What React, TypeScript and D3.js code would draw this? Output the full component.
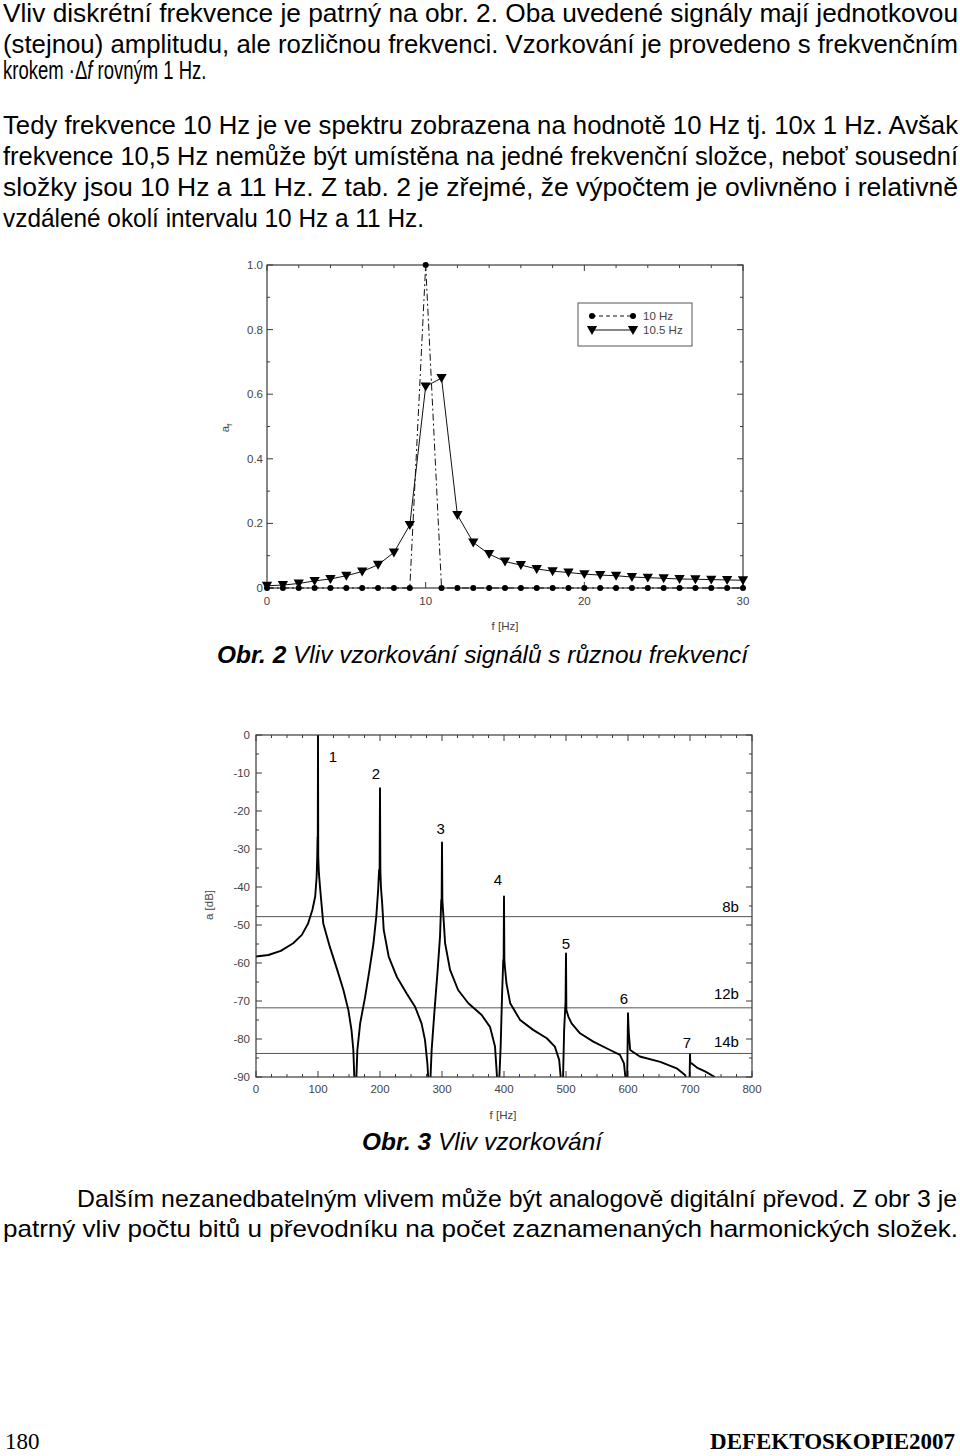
import React from 'react';
import * as d3 from 'd3';

// ---- Obr. 2 data ----
const topFreq = [0, 1, 2, 3, 4, 5, 6, 7, 8, 9, 10, 11, 12, 13, 14, 15, 16, 17, 18, 19, 20, 21, 22, 23, 24, 25, 26, 27, 28, 29, 30];
const amp10 = [0, 0, 0, 0, 0, 0, 0, 0, 0, 0, 1, 0, 0, 0, 0, 0, 0, 0, 0, 0, 0, 0, 0, 0, 0, 0, 0, 0, 0, 0, 0];
const amp105 = [0.007, 0.009, 0.014, 0.022, 0.028, 0.038, 0.051, 0.072, 0.11, 0.195, 0.624, 0.65, 0.226, 0.141, 0.105, 0.082, 0.071, 0.059, 0.052, 0.048, 0.043, 0.04, 0.038, 0.034, 0.032, 0.03, 0.028, 0.027, 0.026, 0.025, 0.024];
const topLegend = ['10 Hz', '10.5 Hz'];
const topXTicks = [0, 10, 20, 30];
const topYTicks = [0, 0.2, 0.4, 0.6, 0.8, 1.0];
const topYLabels = ['0', '0.2', '0.4', '0.6', '0.8', '1.0'];

// ---- Obr. 3 data ----
const specFreq = [0, 20, 40, 60, 74, 84, 91, 95.5, 97.8, 98.8, 99.3, 99.6, 100,
  100.4, 101.5, 103.5, 108.5, 119, 131, 141, 149, 154, 157, 159,
  161.5, 163.5, 168, 176, 183, 189.5, 194, 197, 198.5, 199.3, 200,
  200.6, 201.5, 203.5, 206, 214, 227, 243, 256.5, 267, 272.6, 276.4, 278.5,
  281, 283.3, 287.6, 293, 296.8, 298.8, 299.4, 300, 300.6,
  302, 305, 313, 326, 342.5, 364, 377.4, 385.5, 388, 389.5,
  392, 394.6, 396.8, 398.8, 399.4, 400, 400.6,
  402, 404, 410, 426, 447, 469, 482, 489, 492.5,
  495, 497, 499.3, 500, 500.6,
  503.8, 509, 522.6, 544, 571, 587, 593.5, 597,
  598.5, 599.5, 600, 600.6, 601.5, 603.5, 619, 652, 678.5, 692, 698,
  699.2, 700, 700.6, 702.5, 712, 725, 740];
const specDb = [-58.3, -57.9, -56.8, -54.8, -52.6, -49.6, -46, -42.5, -37.3, -32, -26.8, -31, 0,
  -32, -36.5, -40.5, -49.6, -55.7, -61.8, -67.1, -72.4, -77.6, -82.9, -92,
  -92, -82.9, -75.9, -68.9, -61.8, -54.8, -47.8, -40.8, -35.5, -38, -14,
  -35.5, -40, -44.3, -51.3, -58.3, -63.6, -68, -71.5, -75.9, -80.3, -86.4, -92,
  -92, -82.9, -73.2, -61.8, -53.1, -43.4, -44, -28.3, -43.4,
  -47, -54.8, -61.8, -67.1, -70.6, -73.7, -76.8, -82, -88.2, -92,
  -92, -82, -68.9, -59.2, -60, -42.5, -59.2,
  -62, -65.4, -70.6, -75, -77.6, -79.8, -82, -85.5, -92,
  -92, -77.6, -70, -57.5, -72.4,
  -74.1, -75.9, -78.5, -80.7, -82.9, -84.2, -86.4, -92,
  -92, -80, -73.2, -76, -79, -82.9, -84.6, -86, -87.7, -89.5, -92,
  -92, -84, -86.5, -86.4, -87.6, -88.6, -90];
const peakLabels = ['1', '2', '3', '4', '5', '6', '7'];
const peakLabelFreq = [124, 193.5, 298, 390, 500, 593.5, 695];
const peakLabelDb = [-5.8, -10.3, -24.7, -38.2, -55, -69.5, -81];
const bitLevels = [-47.8, -71.8, -83.8];
const bitLabels = ['8b', '12b', '14b'];
const bitLabelDb = [-45.3, -68.2, -80.8];
const bottomXTicks = [0, 100, 200, 300, 400, 500, 600, 700, 800];
const bottomYTicks = [0, -10, -20, -30, -40, -50, -60, -70, -80, -90];

// ---- page text ----
const para1 = [
  'Vliv diskrétní frekvence je patrný na obr. 2. Oba uvedené signály mají jednotkovou',
  '(stejnou) amplitudu, ale rozličnou frekvenci. Vzorkování je provedeno s\u00a0frekvenčním',
];
const para2 = [
  'Tedy frekvence 10 Hz je ve spektru zobrazena na hodnotě 10 Hz tj. 10x 1 Hz. Avšak',
  'frekvence 10,5 Hz nemůže být umístěna na jedné frekvenční složce, neboť sousední',
  'složky jsou 10 Hz a 11 Hz. Z\u00a0tab. 2 je zřejmé, že výpočtem je ovlivněno i relativně',
];
const para2Last = 'vzdálené okolí intervalu 10 Hz a 11 Hz.';
const para3 = [
  'Dalším nezanedbatelným vlivem může být analogově digitální převod. Z\u00a0obr 3 je',
  'patrný vliv počtu bitů u převodníku na počet zaznamenaných harmonických složek.',
];

const SANS = "'Liberation Sans', Arial, Helvetica, sans-serif";
const SERIF = "'Liberation Serif', 'Times New Roman', serif";
const AXIS = '#3a3a3a';
const LABEL = '#444';

const App: React.FC = () => {
  // top chart scales
  const x1 = d3.scaleLinear().domain([0, 30]).range([267, 743]);
  const y1 = d3.scaleLinear().domain([0, 1]).range([588, 265]);
  // bottom chart scales
  const x2 = d3.scaleLinear().domain([0, 800]).range([256, 752]);
  const y2 = d3.scaleLinear().domain([-90, 0]).range([1077, 735]);

  const line10 = d3.line<number>().x((_, i) => x1(topFreq[i])).y(d => y1(d));
  const specLine = d3.line<number>().x((_, i) => x2(specFreq[i])).y(d => y2(d));
  const tri = d3.symbol().type(d3.symbolTriangle).size(46)()!;

  const topMinorX = d3.range(0, 30.01, 2);
  const topMinorY = d3.range(0, 1.001, 0.1);
  const botMinorX = d3.range(0, 800.1, 25);
  const botMinorY = d3.range(-90, 0.1, 5);

  const [tx0, tx1] = x1.range();
  const [ty0, ty1] = y1.range();
  const [bx0, bx1] = x2.range();
  const [by0, by1] = y2.range();

  return (
    <svg width={960} height={1456} style={{ position: 'absolute', left: 0, top: 0, background: '#fff' }}>
      <defs>
        <clipPath id="specClip">
          <rect x={bx0} y={by1} width={bx1 - bx0} height={by0 - by1} />
        </clipPath>
      </defs>

      {/* paragraph 1 */}
      <g fontFamily={SANS} fontSize={25} fill="#000">
        {para1.map((t, i) => (
          <text key={t} x={3} y={22 + i * 31} textLength={955} lengthAdjust="spacingAndGlyphs">{t}</text>
        ))}
        <text transform="translate(3,79) scale(0.74,1)">
          krokem ·Δ<tspan fontStyle="italic">f</tspan> rovným 1 Hz.
        </text>
        {para2.map((t, i) => (
          <text key={t} x={3} y={134 + i * 31} textLength={955} lengthAdjust="spacingAndGlyphs">{t}</text>
        ))}
        <text x={3} y={227} textLength={421} lengthAdjust="spacingAndGlyphs">{para2Last}</text>
      </g>

      {/* ---------- Obr. 2 ---------- */}
      <g>
        <g stroke={AXIS} strokeWidth={1}>
          {topMinorX.map(v => {
            const l = v % 10 === 0 ? 6 : 3;
            return (
              <g key={'tx' + v}>
                <line x1={x1(v)} x2={x1(v)} y1={ty0} y2={ty0 - l} />
                <line x1={x1(v)} x2={x1(v)} y1={ty1} y2={ty1 + l} />
              </g>
            );
          })}
          {topMinorY.map((v, i) => {
            const l = i % 2 === 0 ? 6 : 3;
            return (
              <g key={'ty' + i}>
                <line x1={tx0} x2={tx0 + l} y1={y1(v)} y2={y1(v)} />
                <line x1={tx1} x2={tx1 - l} y1={y1(v)} y2={y1(v)} />
              </g>
            );
          })}
        </g>
        <rect x={tx0} y={ty1} width={tx1 - tx0} height={ty0 - ty1} fill="none" stroke={AXIS} strokeWidth={1.2} />

        <g fontFamily={SANS} fontSize={11.5} fill={LABEL}>
          {topXTicks.map(v => (
            <text key={v} x={x1(v)} y={605} textAnchor="middle">{v}</text>
          ))}
          {topYTicks.map((v, i) => (
            <text key={v} x={263} y={y1(v) + 4} textAnchor="end">{topYLabels[i]}</text>
          ))}
          <text x={505} y={630} textAnchor="middle">f [Hz]</text>
          <text transform="translate(229,428) rotate(-90)" textAnchor="middle">
            a<tspan fontSize={8} dy={3}>f</tspan>
          </text>
        </g>

        {/* 10 Hz series */}
        <path d={line10(amp10)!} fill="none" stroke="#111" strokeWidth={1} strokeDasharray="7,3,2,3" />
        {/* 10.5 Hz series */}
        <path d={line10(amp105)!} fill="none" stroke="#111" strokeWidth={1} />
        {amp10.map((v, i) => (
          <circle key={'c' + i} cx={x1(topFreq[i])} cy={y1(v)} r={3} fill="#000" />
        ))}
        {amp105.map((v, i) => (
          <path key={'t' + i} d={tri} transform={`translate(${x1(topFreq[i])},${y1(v) - 1}) rotate(180)`} fill="#000" />
        ))}

        {/* legend */}
        <g>
          <rect x={578} y={303} width={114} height={43} fill="#fff" stroke="#555" strokeWidth={1} />
          <line x1={592} x2={633} y1={316} y2={316} stroke="#111" strokeWidth={1} strokeDasharray="4,3" />
          <circle cx={592} cy={316} r={3} fill="#000" />
          <circle cx={633} cy={316} r={3} fill="#000" />
          <line x1={592} x2={633} y1={330} y2={330} stroke="#111" strokeWidth={1} />
          <path d={tri} transform="translate(592,329) rotate(180)" fill="#000" />
          <path d={tri} transform="translate(633,329) rotate(180)" fill="#000" />
          <g fontFamily={SANS} fontSize={11.5} fill={LABEL}>
            <text x={643} y={320}>{topLegend[0]}</text>
            <text x={643} y={334}>{topLegend[1]}</text>
          </g>
        </g>
      </g>

      <text x={217} y={663} fontFamily={SANS} fontSize={24} fontStyle="italic" textLength={531} lengthAdjust="spacingAndGlyphs">
        <tspan fontWeight="bold">Obr. 2</tspan> Vliv vzorkování signálů s různou frekvencí
      </text>

      {/* ---------- Obr. 3 ---------- */}
      <g>
        <g stroke={AXIS} strokeWidth={1}>
          {botMinorX.map(v => {
            const l = v % 100 === 0 ? 6 : 3;
            return (
              <g key={'bx' + v}>
                <line x1={x2(v)} x2={x2(v)} y1={by0} y2={by0 - l} />
                <line x1={x2(v)} x2={x2(v)} y1={by1} y2={by1 + l} />
              </g>
            );
          })}
          {botMinorY.map(v => {
            const l = v % 10 === 0 ? 6 : 3;
            return (
              <g key={'by' + v}>
                <line x1={bx0} x2={bx0 + l} y1={y2(v)} y2={y2(v)} />
                <line x1={bx1} x2={bx1 - l} y1={y2(v)} y2={y2(v)} />
              </g>
            );
          })}
        </g>

        {/* bit resolution levels */}
        {bitLevels.map(v => (
          <line key={v} x1={bx0} x2={bx1} y1={y2(v)} y2={y2(v)} stroke="#555" strokeWidth={1} />
        ))}

        <path d={specLine(specDb)!} fill="none" stroke="#000" strokeWidth={1.9} strokeLinejoin="round" clipPath="url(#specClip)" />

        <rect x={bx0} y={by1} width={bx1 - bx0} height={by0 - by1} fill="none" stroke={AXIS} strokeWidth={1.2} />

        <g fontFamily={SANS} fontSize={11.5} fill={LABEL}>
          {bottomXTicks.map(v => (
            <text key={v} x={x2(v)} y={1093} textAnchor="middle">{v}</text>
          ))}
          {bottomYTicks.map(v => (
            <text key={v} x={250} y={y2(v) + 4} textAnchor="end">{v}</text>
          ))}
          <text x={503} y={1119} textAnchor="middle">f [Hz]</text>
          <text transform="translate(213,905) rotate(-90)" textAnchor="middle">a [dB]</text>
        </g>

        <g fontFamily={SANS} fontSize={15} fill="#000">
          {peakLabels.map((t, i) => (
            <text key={t} x={x2(peakLabelFreq[i])} y={y2(peakLabelDb[i]) + 5} textAnchor="middle">{t}</text>
          ))}
          {bitLabels.map((t, i) => (
            <text key={t} x={x2(779)} y={y2(bitLabelDb[i]) + 5} textAnchor="end">{t}</text>
          ))}
        </g>
      </g>

      <text x={362} y={1150} fontFamily={SANS} fontSize={24} fontStyle="italic" textLength={240} lengthAdjust="spacingAndGlyphs">
        <tspan fontWeight="bold">Obr. 3</tspan> Vliv vzorkování
      </text>

      {/* paragraph 3 */}
      <g fontFamily={SANS} fontSize={24} fill="#000">
        <text x={77} y={1207} textLength={880} lengthAdjust="spacingAndGlyphs">{para3[0]}</text>
        <text x={3} y={1237} textLength={955} lengthAdjust="spacingAndGlyphs">{para3[1]}</text>
      </g>

      {/* footer */}
      <g fontFamily={SERIF} fontSize={23} fill="#000">
        <text x={5} y={1449}>180</text>
        <text x={955} y={1449} textAnchor="end" fontWeight="bold">DEFEKTOSKOPIE2007</text>
      </g>
    </svg>
  );
};

export default App;
